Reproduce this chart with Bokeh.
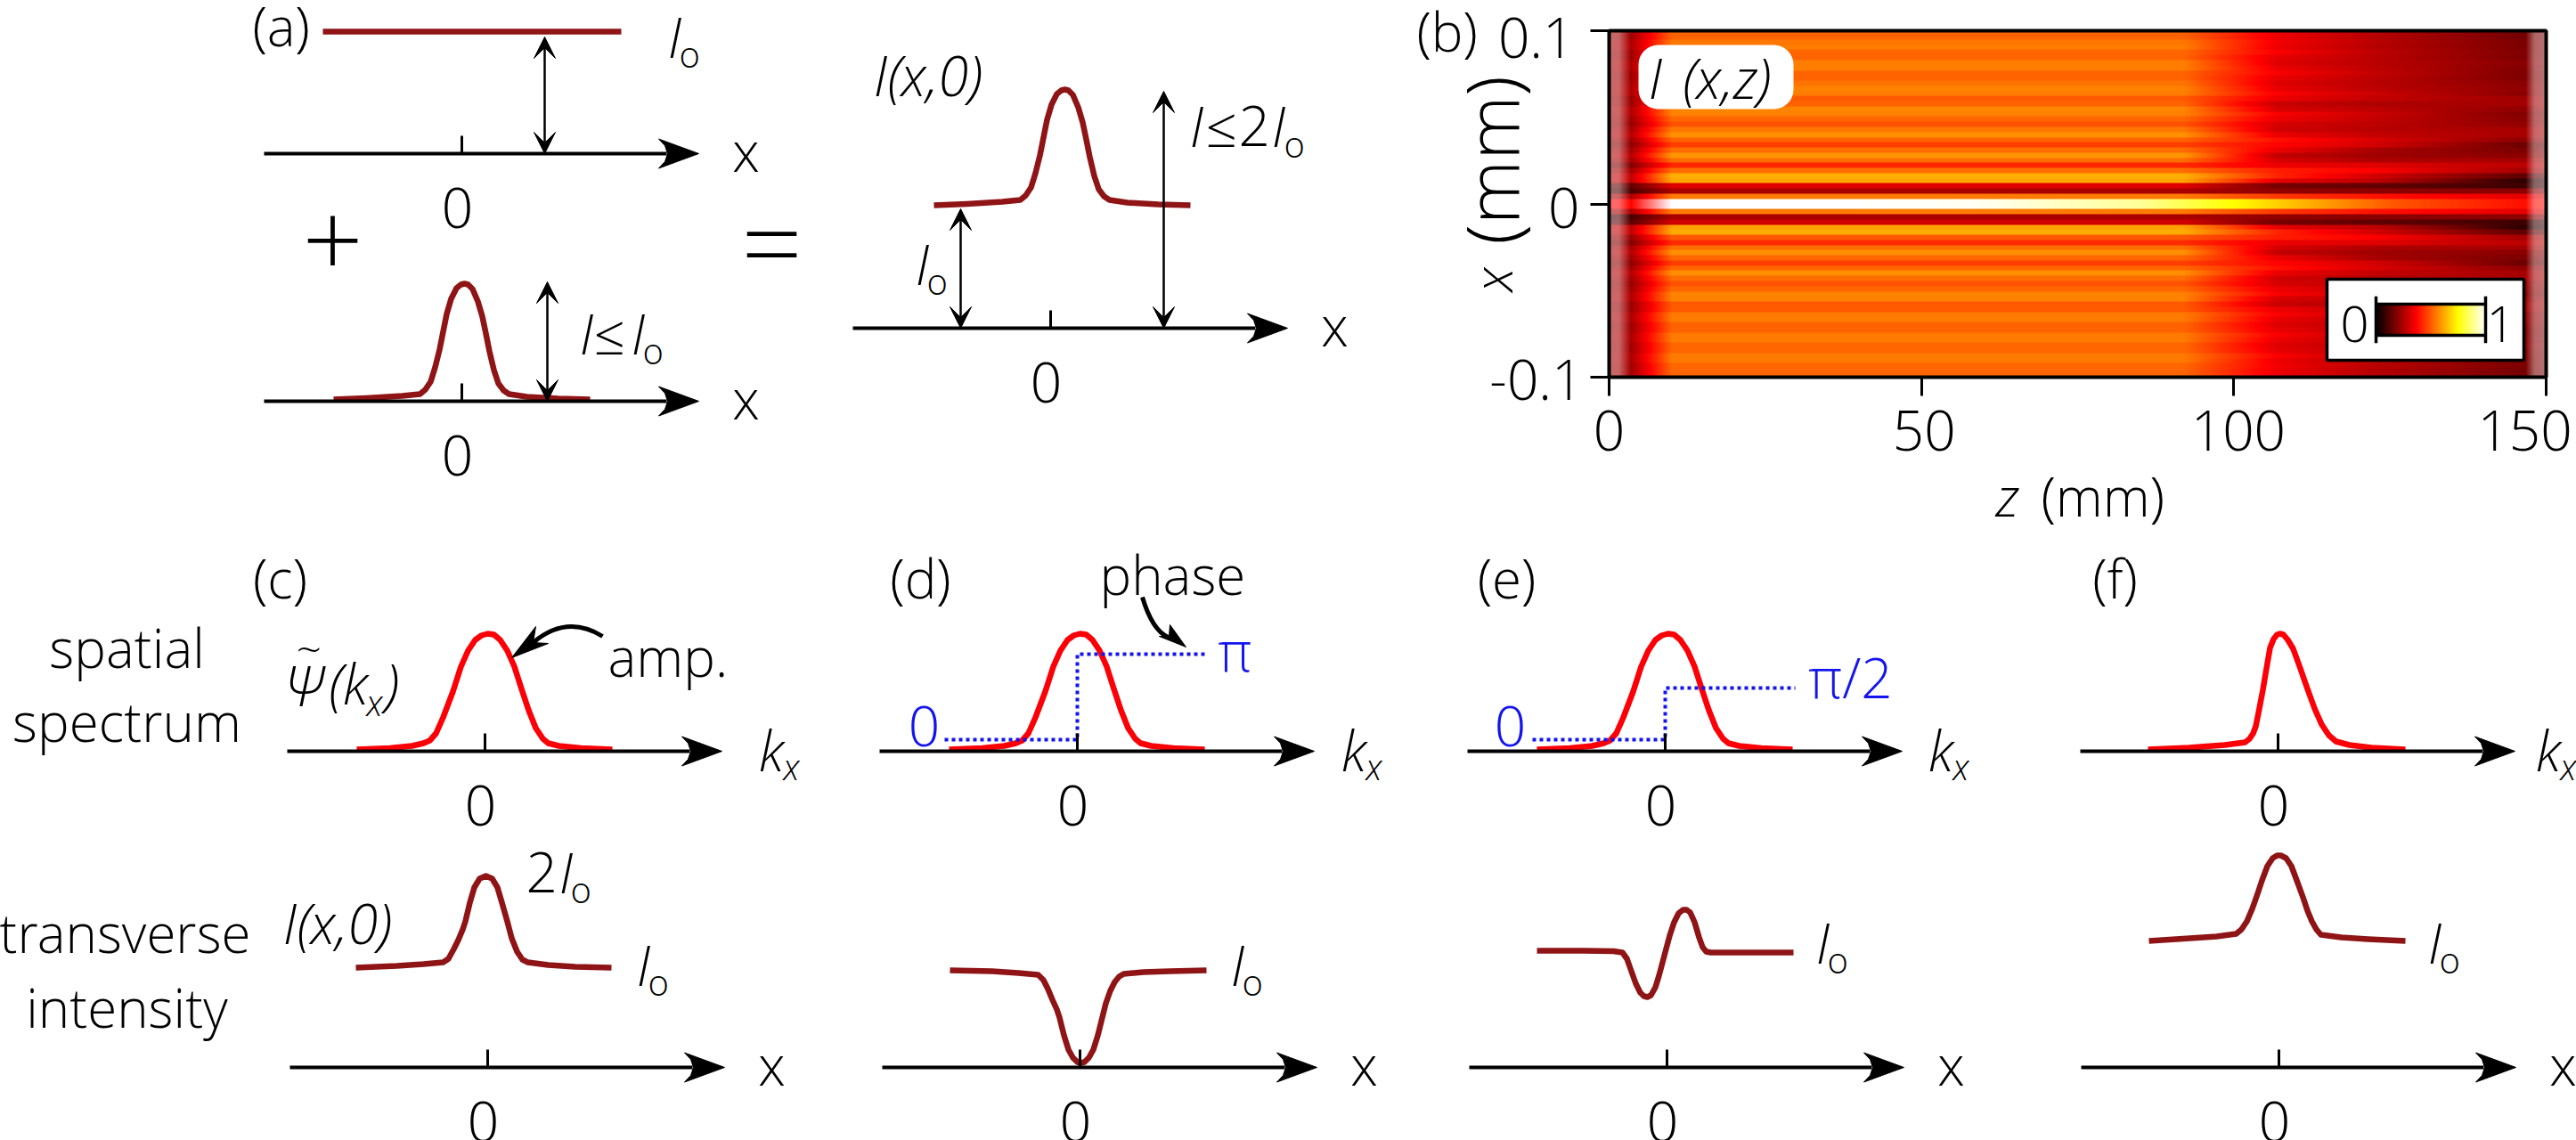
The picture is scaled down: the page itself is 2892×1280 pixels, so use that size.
import numpy as np
from bokeh.core.properties import value
from bokeh.embed import file_html
from bokeh.models import Arrow, BoxAnnotation, FixedTicker, LinearAxis, LinearColorMapper, Range1d, VeeHead
from bokeh.plotting import figure
from bokeh.resources import INLINE

# ---------- data ----------
z_ticks = [0, 50, 100, 150]
z_tick_labels = ["0", "50", "100", "150"]
x_ticks = [-0.1, 0, 0.1]
x_tick_labels = ["-0.1", "0", "0.1"]
# heat-map stripes, from the centre outwards (row 1 = next to the bright core), read at z = 40
stripes_upper = [.55,.243,.32,.615,.63,.53,.425,.53,.59,.53,.46,.515,.585,.545,.49,.52,.56,.565,.515,.50,.555,.56,.54,.515,.515,.555,.555,.515,.52,.555,.545,.515]
stripes_lower = [.55,.243,.30,.61,.625,.50,.43,.53,.58,.52,.46,.52,.58,.53,.49,.52,.56,.56,.50,.50,.55,.55,.515,.515,.55,.55,.52,.52,.55,.55,.52,.52]
# the same stripes further along z
stripes_z107 = [.45,.21,.17,.33,.42,.41,.34,.31,.28,.34,.37,.39,.34,.30,.31,.34,.36,.31,.29,.34,.36,.335,.32,.335,.36,.34,.32,.33,.36,.34,.35,.34]
stripes_z123 = [.39,.20,.14,.27,.30,.36,.32,.25,.23,.24,.30,.31,.28,.265,.27,.28,.29,.27,.25,.28,.29,.27,.265,.27,.28,.27,.265,.265,.27,.26,.265,.26]
stripes_z146 = [.33,.20,.09,.07,.14,.24,.27,.24,.20,.18,.16,.21,.24,.24,.21,.20,.19,.21,.235,.23,.20,.21,.20,.185,.185,.19,.20,.185,.185,.18,.18,.17]
core_z = [0, 9.9, 10, 40, 60, 85, 100, 115, 125, 140, 148, 150]
core_v = [.37, .37, 1, 1, .98, .90, .75, .60, .50, .42, .38, .38]
ramp_z = [0, 3.5, 10, 92, 107, 123, 146, 150]
ramp_gain = [.45, .45, 1]
veil_z = [0, 1.5, 3.4, 146.8, 148.2, 150]
veil_a = [.40, .40, 0, 0, .40, .45]
core_veil_z = [3.5, 10, 35, 70]
core_veil_a = [0, 1, 1, 0]
hot_stops = [0, .365, .75, 1]

a_x = [-1.44,-1.07,-.67,-.47,-.41,-.35,-.30,-.25,-.21,-.17,-.12,-.06,-.01,.03,.07,.12,.18,.23,.27,.31,.36,.41,.47,.53,.73,1.08,1.44]
a_y = [.02,.035,.06,.08,.13,.22,.38,.58,.78,.98,1.15,1.27,1.31,1.32,1.31,1.26,1.12,.95,.76,.56,.35,.20,.12,.08,.05,.03,.02]
a_flat_x = [-1.56, 1.79]
a_flat_y = [1.37, 1.37]
a3_shift = 0.13
a3_level = 1.36
red_x = [-1.44,-1.07,-.82,-.69,-.62,-.55,-.47,-.36,-.27,-.19,-.11,-.04,.03,.10,.17,.25,.33,.41,.49,.57,.65,.71,.83,1.08,1.43]
red_y = [.02,.035,.06,.09,.12,.20,.38,.67,.95,1.13,1.25,1.30,1.32,1.31,1.25,1.13,.95,.70,.46,.26,.14,.09,.06,.035,.02]
c_x = [-1.48,-1.02,-.72,-.50,-.44,-.38,-.33,-.28,-.25,-.20,-.15,-.09,-.02,.05,.11,.16,.22,.27,.33,.39,.45,.68,.98,1.39]
c_y = [1.12,1.14,1.16,1.18,1.22,1.33,1.43,1.55,1.64,1.85,2.02,2.12,2.15,2.12,2.02,1.85,1.64,1.45,1.30,1.21,1.18,1.15,1.13,1.12]
d_x = [-1.46,-.99,-.69,-.47,-.41,-.36,-.31,-.26,-.23,-.18,-.13,-.08,-.03,.01,.05,.10,.15,.20,.25,.29,.34,.39,.44,.49,.71,1.01,1.42]
d_y = [1.09,1.08,1.06,1.04,.98,.88,.76,.65,.56,.36,.20,.11,.06,.05,.06,.11,.20,.36,.56,.72,.86,.96,1.02,1.05,1.07,1.08,1.09]
e_x = [-1.46,-1.00,-.60,-.50,-.45,-.40,-.35,-.30,-.26,-.22,-.18,-.13,-.09,-.05,-.01,.03,.08,.13,.18,.22,.26,.31,.36,.40,.44,.49,.80,1.42]
e_y = [1.31,1.31,1.305,1.29,1.22,1.08,.94,.84,.80,.79,.81,.90,1.03,1.18,1.33,1.48,1.63,1.73,1.77,1.77,1.74,1.63,1.46,1.35,1.30,1.29,1.29,1.29]
f_top_x = [-1.46,-1.00,-.60,-.37,-.32,-.28,-.25,-.21,-.17,-.13,-.09,-.05,-.01,.02,.06,.11,.17,.25,.33,.41,.49,.57,.65,.80,1.05,1.43]
f_top_y = [.02,.04,.07,.10,.14,.20,.28,.48,.69,.93,1.16,1.26,1.31,1.32,1.31,1.25,1.15,.93,.70,.48,.30,.18,.11,.07,.04,.02]
f_bot_x = [-1.46,-1.00,-.70,-.48,-.42,-.36,-.30,-.24,-.19,-.13,-.07,-.02,.02,.08,.14,.20,.27,.32,.37,.42,.47,.70,1.00,1.42]
f_bot_y = [1.42,1.45,1.47,1.50,1.55,1.64,1.78,1.95,2.10,2.26,2.35,2.38,2.38,2.35,2.26,2.10,1.91,1.76,1.64,1.55,1.49,1.46,1.44,1.42]
phase_x = [-1.49, 0, 0, 1.46]
phase_pi_y = [.13, .13, 1.09, 1.09]
phase_half_y = [.13, .13, .71, .71]
head_x = [0, -.45, -.38, -.35, -.38, -.45]
head_y = [0, .165, .09, 0, -.09, -.165]

FONT = "Open Sans Light"
BIG = 62
WORD = 60
SUB = 40
DARK = "#8f1416"
RED = "#fb0007"
BLUE = "#1414f0"
W, H = 2892, 1280
DROP = 0.293   # the alphabetic baseline of a text glyph lands this many ems too low

p = figure(width=W, height=H, x_range=(0, W), y_range=(H, 0), output_backend="svg",
           toolbar_location=None, min_border=0, x_axis_location=None, y_axis_location=None,
           outline_line_color=None, background_fill_color="white")
p.grid.visible = False


def ranges(name, px0, py0, ux, uy):
    """px0/py0: page pixel of the data origin; ux/uy: pixels per data unit."""
    p.extra_x_ranges[name] = Range1d(-px0 / ux, (W - px0) / ux)
    p.extra_y_ranges[name] = Range1d((py0 - H) / uy, py0 / uy)


def t(x, y, s, size=BIG, style="normal", color="black", align="left", angle=0, font=FONT):
    if angle:
        x = x - DROP * size
    else:
        y = y - DROP * size
    p.text([x], [y], [s], text_font=value(font), text_font_size=f"{size}px", text_font_style=style,
           text_color=color, text_align=align, text_baseline="alphabetic", angle=angle, level="overlay")


def io(x, base):
    t(x, base, "I", style="italic")
    t(x + 13, base + 13, "o", size=SUB)


def kx(x):
    t(x, 860, "k", style="italic")
    t(x + 28, 872, "x", size=SUB, style="italic")


def panel(name, px0, py0, label="x"):
    ranges(name, px0, py0, 100, 100)
    ax = LinearAxis(x_range_name=name, fixed_location=py0, ticker=FixedTicker(ticks=[0]), bounds=(-2.22, 2.3),
                    axis_line_width=4, axis_line_color="black", major_tick_in=20, major_tick_out=0,
                    major_tick_line_width=3, major_tick_line_color="black", minor_tick_line_color=None,
                    major_label_overrides={0: ""})
    p.add_layout(ax, "below")
    p.patch(np.array(head_x) + 2.66, head_y, color="black", line_width=1, x_range_name=name, y_range_name=name)
    p.text([0], [0], ["0"], x_offset=-5, y_offset=79 - DROP * BIG, text_font=value(FONT), text_font_size=f"{BIG}px",
           text_align="center", text_baseline="alphabetic", x_range_name=name, y_range_name=name, level="overlay")
    if label == "x":
        t(px0 + 319, py0 + 15, "x", size=BIG, align="center")


def curve(name, xs, ys, color):
    p.line(xs, ys, line_color=color, line_width=6.5, line_join="round", x_range_name=name, y_range_name=name)


def thin(name, x, y0, y1):
    p.add_layout(Arrow(x_start=x, y_start=y0, x_end=x, y_end=y1, line_width=2.5, line_color="black",
                       start=VeeHead(size=24, fill_color="black", line_color="black", line_width=1),
                       end=VeeHead(size=24, fill_color="black", line_color="black", line_width=1),
                       x_range_name=name, y_range_name=name))


# ---------- heat map (b) ----------
ranges("z", 1806, 0, (2858 - 1806) / 150, 1)
K = 0.2 / 389
p.extra_y_ranges["xmm"] = Range1d((228.5 - H) * K, 228.5 * K)
px_y = np.arange(389)
offs = 228.5 - (px_y + 34.5)                         # + above the centre
zs = np.linspace(0, 150, 1052)
hot_r = np.interp(np.linspace(0, 1, 256), hot_stops, [0, 255, 255, 255])
hot_g = np.interp(np.linspace(0, 1, 256), hot_stops, [0, 0, 255, 255])
hot_b = np.interp(np.linspace(0, 1, 256), hot_stops, [0, 0, 0, 255])
HOT = ["#%02x%02x%02x" % (int(r), int(g), int(b)) for r, g, b in zip(hot_r, hot_g, hot_b)]
vals = np.zeros((389, 1052))
white = np.zeros((389, 1052))
veil = np.interp(zs, veil_z, veil_a)
core_line = np.interp(zs, core_z, core_v)
core_white = np.interp(zs, core_veil_z, core_veil_a)
for j, d in enumerate(offs):
    k = int(np.ceil((abs(d) - 5.75) / 5.77))
    if k <= 0:
        vals[j] = core_line
        white[j] = np.maximum(core_white, veil)
    else:
        k = min(k, 32) - 1
        base = (stripes_upper if d > 0 else stripes_lower)[k]
        knots = [base * ramp_gain[0], base * ramp_gain[1], base * ramp_gain[2], base,
                 stripes_z107[k], stripes_z123[k], stripes_z146[k], stripes_z146[k]]
        vals[j] = np.interp(zs, ramp_z, knots)
        white[j] = veil
rgb = np.stack([np.interp(vals, hot_stops, [0, 255, 255, 255]),
                np.interp(vals, hot_stops, [0, 0, 255, 255]),
                np.interp(vals, hot_stops, [0, 0, 0, 255])], axis=-1)
rgb = rgb * (1 - white[..., None]) + 255 * white[..., None]
img = np.zeros((389, 1052), dtype=np.uint32)
view = img.view(dtype=np.uint8).reshape((389, 1052, 4))
view[..., :3] = rgb[::-1].astype(np.uint8)
view[..., 3] = 255
p.image_rgba(image=[img], x=0, y=-0.1, dw=150, dh=0.2, x_range_name="z", y_range_name="xmm")
p.quad(left=[0], right=[150], bottom=[-0.1], top=[0.1], fill_color=None, line_color="black", line_width=4,
       x_range_name="z", y_range_name="xmm")
zax = LinearAxis(x_range_name="z", fixed_location=423, ticker=FixedTicker(ticks=z_ticks), bounds=(0, 150),
                 axis_line_color=None, major_tick_out=21, major_tick_in=0, major_tick_line_width=3,
                 major_tick_line_color="black", minor_tick_line_color=None,
                 major_label_overrides={v: "" for v in z_ticks})
p.add_layout(zax, "below")
xax = LinearAxis(y_range_name="xmm", fixed_location=1806, ticker=FixedTicker(ticks=x_ticks), bounds=(-0.1, 0.1),
                 axis_line_color=None, major_tick_out=21, major_tick_in=0, major_tick_line_width=3,
                 major_tick_line_color="black", minor_tick_line_color=None,
                 major_label_overrides={v: "" for v in x_ticks})
p.add_layout(xax, "left")
for v, lab, dx in zip(z_ticks, z_tick_labels, (0, 3, 5, -24)):
    p.text([v], [-0.1], [lab], x_offset=dx, y_offset=78 - DROP * BIG, text_font=value(FONT), text_font_size=f"{BIG}px",
           text_align="center", text_baseline="alphabetic", x_range_name="z", y_range_name="xmm", level="overlay")
for v, lab, dx, dy in zip(x_ticks, x_tick_labels, (-29, -33, -39), (21, 23, 26)):
    p.text([0], [v], [lab], x_offset=dx, y_offset=dy - DROP * BIG, text_font=value(FONT), text_font_size=f"{BIG}px",
           text_align="right", text_baseline="alphabetic", x_range_name="z", y_range_name="xmm", level="overlay")
t(2240, 574, "z", style="italic", size=WORD)
t(2291, 574, "(mm)", size=WORD)
t(1692, 327, "x", style="italic", angle=np.pi / 2, size=WORD)
t(1697, 274, "(mm)", angle=np.pi / 2, size=82)
t(1590, 52, "(b)", size=WORD)
p.add_layout(BoxAnnotation(left=1839, right=2013, top=50, bottom=122, fill_color="white", fill_alpha=1,
                           line_color=None, border_radius=22))
t(1850, 105, "I", style="italic")
t(1888, 105, "(x,z)", style="italic")
# inset colour bar
p.quad(left=[2612], right=[2833], top=[313], bottom=[404], fill_color="white", line_color="black", line_width=3.5)
ranges("cb", 2667, 376, 2790 - 2667, 376 - 341)
p.image(image=[np.linspace(0, 1, 256)[None, :]], x=0, y=0, dw=1, dh=1, color_mapper=LinearColorMapper(palette=HOT, low=0, high=1),
        x_range_name="cb", y_range_name="cb")
p.segment([0, 0], [0, 1], [1, 1], [0, 1], line_color="black", line_width=3.5, x_range_name="cb", y_range_name="cb")
p.segment([0, 1], [-.25, -.25], [0, 1], [1.25, 1.25], line_color="black", line_width=3.5, x_range_name="cb", y_range_name="cb")
t(2643, 380, "0", size=56, align="center")
t(2807, 380, "1", size=56, align="center")

# ---------- (a) ----------
panel("a1", 518, 172)
panel("a2", 518, 450)
panel("a3", 1179, 368)
curve("a1", a_flat_x, a_flat_y, DARK)
curve("a2", a_x, a_y, DARK)
curve("a3", np.array(a_x) + a3_shift, np.array(a_y) + a3_level, DARK)
thin("a1", 0.93, 1.31, 0)
thin("a2", 0.96, 1.34, 0)
thin("a3", -1.01, 1.34, 0)
thin("a3", 1.27, 2.66, 0)
t(283, 46, "(a)", size=WORD)
io(749, 59)
io(1027, 314)
t(650, 392, "I", style="italic")
t(666, 392, "≤")
t(708, 392, "I", style="italic")
t(721, 405, "o", size=SUB)
t(1335, 159, "I", style="italic")
t(1353, 159, "≤")
t(1390, 159, "2")
t(1427, 159, "I", style="italic")
t(1441, 173, "o", size=SUB)
t(980, 102, "I(x,0)", style="italic")
t(373, 305, "+", size=120, align="center")
t(866, 305, "=", size=120, align="center")

# ---------- (c)-(f) ----------
panel("ct", 544, 843, label="k")
panel("cb2", 547, 1198)
panel("dt", 1209, 843, label="k")
panel("db", 1212, 1198)
panel("et", 1869, 843, label="k")
panel("eb", 1871, 1198)
panel("ft", 2557, 843, label="k")
panel("fb", 2558, 1198)
curve("ct", red_x, red_y, RED)
curve("dt", red_x, red_y, RED)
curve("et", red_x, red_y, RED)
curve("ft", f_top_x, f_top_y, RED)
curve("cb2", c_x, c_y, DARK)
curve("db", d_x, d_y, DARK)
curve("eb", e_x, e_y, DARK)
curve("fb", f_bot_x, f_bot_y, DARK)
for nm, ph in (("dt", phase_pi_y), ("et", phase_half_y)):
    p.line(phase_x, ph, line_color=BLUE, line_width=4, line_dash="4 4", x_range_name=nm, y_range_name=nm)
for x in (851, 1505, 2164, 2846):
    kx(x)
for x, lab in ((314, "(c)"), (1033, "(d)"), (1691, "(e)"), (2374, "(f)")):
    t(x, 666, lab, align="center", size=WORD)
t(142, 744, "spatial", align="center", size=WORD)
t(142, 827, "spectrum", align="center", size=WORD)
t(140, 1064, "transverse", align="center", size=WORD)
t(142, 1148, "intensity", align="center", size=WORD)
t(319, 787, "Ψ", style="italic")
t(332, 742, "~", size=50)
t(368, 785, "(k", style="italic")
t(411, 800, "x", size=SUB, style="italic")
t(432, 785, ")", style="italic")
t(682, 754, "amp.", size=WORD)
t(590, 997, "2")
io(627, 997)
io(714, 1101)
io(1381, 1101)
io(2038, 1076)
io(2725, 1076)
t(317, 1054, "I(x,0)", style="italic")
t(1234, 662, "phase", size=WORD)
t(1037, 833, "0", color=BLUE, align="center")
t(1695, 833, "0", color=BLUE, align="center")
t(1386, 748, "π", color=BLUE, align="center")
t(2077, 778, "π/2", color=BLUE, align="center")
# curved pointers
p.quadratic([676], [714], [598], [721], [636], [689], line_color="black", line_width=5)
p.patch([574, 601, 598, 615], [738, 703, 721, 722], color="black")
p.quadratic([1282], [670], [1311], [715], [1293], [707], line_color="black", line_width=5)
p.patch([1331, 1313, 1312, 1301], [726, 701, 714, 714], color="black")

open("out.html", "w").write(file_html(p, INLINE))
